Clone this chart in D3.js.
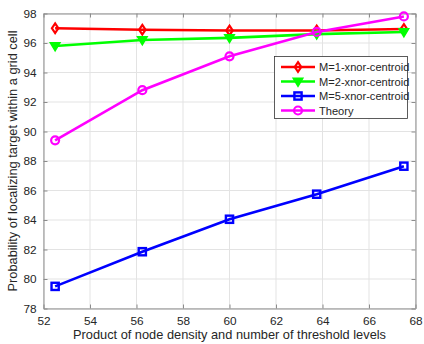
<!DOCTYPE html>
<html>
<head>
<meta charset="utf-8">
<script src="https://cdn.jsdelivr.net/npm/d3@7"></script>
<style>
  html, body { margin: 0; padding: 0; background: #fff; }
  svg { display: block; font-family: "Liberation Sans", Arial, sans-serif; }
</style>
</head>
<body>
<svg id="chart" width="424" height="344"></svg>
<script>
// Product of node density and number of threshold levels
const xValues = [52.5, 56.25, 60, 63.75, 67.5];

// Localization probability (%) for each scheme
const m1Values = [97.0, 96.9, 96.85, 96.85, 96.95];
const m2Values = [95.8, 96.2, 96.35, 96.6, 96.75];
const m5Values = [79.5, 81.85, 84.05, 85.75, 87.65];
const theoryValues = [89.4, 92.8, 95.1, 96.75, 97.8];

const seriesNames = ["M=1-xnor-centroid", "M=2-xnor-centroid", "M=5-xnor-centroid", "Theory"];

const xTicks = [52, 54, 56, 58, 60, 62, 64, 66, 68];
const yTicks = [78, 80, 82, 84, 86, 88, 90, 92, 94, 96, 98];

const series = [
  { name: seriesNames[0], values: m1Values, color: "#ff0000", marker: "diamond" },
  { name: seriesNames[1], values: m2Values, color: "#00ff00", marker: "triangleDown" },
  { name: seriesNames[2], values: m5Values, color: "#0000ff", marker: "square" },
  { name: seriesNames[3], values: theoryValues, color: "#ff00ff", marker: "circle" }
];

const svg = d3.select("#chart");
const plotLeft = 43.5, plotRight = 415.5, plotTop = 13.5, plotBottom = 308.5;

const x = d3.scaleLinear().domain([52, 68]).range([plotLeft, plotRight]);
const y = d3.scaleLinear().domain([78, 98]).range([plotBottom, plotTop]);

// grid
const grid = svg.append("g");
grid.selectAll(".gx").data(xTicks).join("line")
  .attr("x1", d => x(d)).attr("x2", d => x(d))
  .attr("y1", plotTop).attr("y2", plotBottom)
  .attr("stroke", "#e3e3e3").attr("stroke-width", 1);
grid.selectAll(".gy").data(yTicks).join("line")
  .attr("x1", plotLeft).attr("x2", plotRight)
  .attr("y1", d => y(d)).attr("y2", d => y(d))
  .attr("stroke", "#e3e3e3").attr("stroke-width", 1);

// axes
const axisColor = "#262626";
svg.append("g").attr("transform", `translate(0,${plotBottom})`)
  .call(d3.axisBottom(x).tickValues(xTicks).tickSize(-4).tickPadding(8).tickSizeOuter(0));
svg.append("g").attr("transform", `translate(${plotLeft},0)`)
  .call(d3.axisLeft(y).tickValues(yTicks).tickSize(-4).tickPadding(7).tickSizeOuter(0));
// mirrored ticks on top and right
svg.append("g").attr("transform", `translate(0,${plotTop})`)
  .call(d3.axisTop(x).tickValues(xTicks).tickSize(-4).tickFormat("").tickSizeOuter(0));
svg.append("g").attr("transform", `translate(${plotRight},0)`)
  .call(d3.axisRight(y).tickValues(yTicks).tickSize(-4).tickFormat("").tickSizeOuter(0));

svg.selectAll(".domain").attr("stroke", "#8c8c8c");
svg.selectAll(".tick line").attr("stroke", "#8c8c8c");
svg.selectAll(".tick text").attr("fill", axisColor).attr("font-size", 11.8)
  .attr("font-family", "'Liberation Sans', Arial, sans-serif");

// axis labels
svg.append("text")
  .attr("x", (plotLeft + plotRight) / 2).attr("y", 339)
  .attr("text-anchor", "middle").attr("font-size", 12.8).attr("fill", axisColor)
  .text("Product of node density and number of threshold levels");
svg.append("text")
  .attr("transform", `translate(17,${(plotTop + plotBottom) / 2}) rotate(-90)`)
  .attr("text-anchor", "middle").attr("font-size", 12.8).attr("fill", axisColor)
  .text("Probability of localizing target within a grid cell");

function drawMarker(g, type, color, cx, cy) {
  const s = 4;
  if (type === "diamond") {
    g.append("path").attr("d", `M${cx},${cy - s * 1.2}L${cx + s * 0.8},${cy}L${cx},${cy + s * 1.2}L${cx - s * 0.8},${cy}Z`)
      .attr("fill", "none").attr("stroke", color).attr("stroke-width", 2.2);
  } else if (type === "triangleDown") {
    g.append("path").attr("d", `M${cx - s * 1.2},${cy - s * 0.8}L${cx + s * 1.2},${cy - s * 0.8}L${cx},${cy + s * 1.2}Z`)
      .attr("fill", color).attr("stroke", color).attr("stroke-width", 1.5);
  } else if (type === "square") {
    g.append("rect").attr("x", cx - s * 0.9).attr("y", cy - s * 0.9)
      .attr("width", s * 1.8).attr("height", s * 1.8)
      .attr("fill", "none").attr("stroke", color).attr("stroke-width", 2.4);
  } else {
    g.append("circle").attr("cx", cx).attr("cy", cy).attr("r", s)
      .attr("fill", "none").attr("stroke", color).attr("stroke-width", 2.2);
  }
}

const line = d3.line().x(d => x(d[0])).y(d => y(d[1]));
const plot = svg.append("g");
series.forEach(s => {
  const pts = xValues.map((xv, i) => [xv, s.values[i]]);
  plot.append("path").datum(pts).attr("d", line)
    .attr("fill", "none").attr("stroke", s.color).attr("stroke-width", 2.6);
  pts.forEach(p => drawMarker(plot, s.marker, s.color, x(p[0]), y(p[1])));
});

// legend
const legend = svg.append("g");
legend.append("rect").attr("x", 274.5).attr("y", 56.5).attr("width", 133).attr("height", 62)
  .attr("fill", "#fff").attr("stroke", "#333").attr("stroke-width", 0.8);
series.forEach((s, i) => {
  const ly = 67 + i * 14.5;
  legend.append("line").attr("x1", 281).attr("x2", 315).attr("y1", ly).attr("y2", ly)
    .attr("stroke", s.color).attr("stroke-width", 2.6);
  drawMarker(legend, s.marker, s.color, 298, ly);
  legend.append("text").attr("x", 319).attr("y", ly + 4)
    .attr("font-size", 11.1).attr("fill", axisColor).text(s.name);
});
</script>
</body>
</html>
